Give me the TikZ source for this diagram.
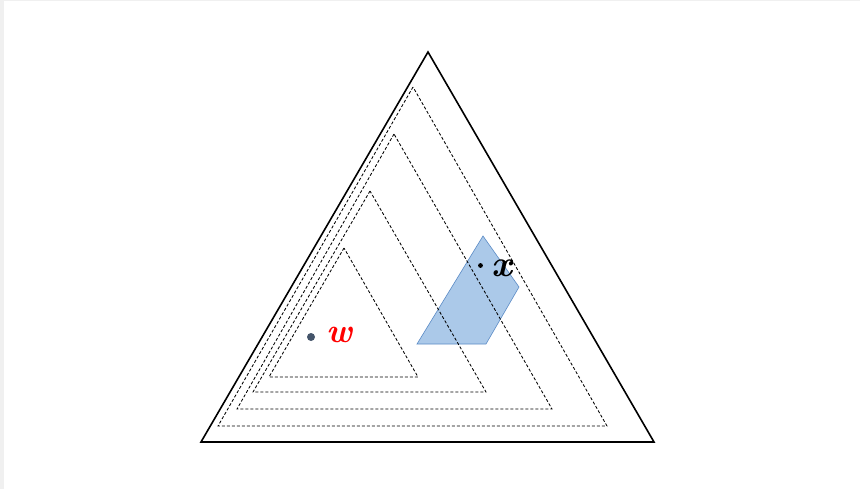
\documentclass[tikz,border=0pt]{standalone}
\definecolor{edgegray}{HTML}{F0F0F0}
\definecolor{regionfill}{HTML}{ABC9E9}
\definecolor{regionedge}{HTML}{5B8BC6}
\definecolor{wdot}{HTML}{44546A}
\tikzset{
  outertri/.style={draw=black, line width=1.6pt, line join=miter},
  dashtri/.style={draw=black, line width=0.85pt, dash pattern=on 3pt off 2pt},
  region/.style={fill=regionfill, draw=regionedge, line width=0.6pt},
  lbl/.style={inner sep=0pt, anchor=center, font=\bfseries\itshape}
}
\begin{document}
\begin{tikzpicture}[x=1pt,y=-1pt]
\useasboundingbox (0,0) rectangle (860,489);
\fill[edgegray] (0,0) rectangle (860,489);
\fill[white] (4,1.5) rectangle (860,489);
% blue region
\draw[region] (483,236) -- (519,287) -- (486,344) -- (417,344) -- cycle;
% dashed triangles
\draw[dashtri] (413,87) -- (218,426) -- (607,426) -- cycle;
\draw[dashtri] (394,134) -- (237,409) -- (552,409) -- cycle;
\draw[dashtri] (370,191) -- (253,392) -- (486,392) -- cycle;
\draw[dashtri] (344,248) -- (269,377) -- (418,377) -- cycle;
% outer triangle
\draw[outertri] (428,52) -- (201,442) -- (654,442) -- cycle;
% points
\fill[wdot] (311,337) circle (4);
\fill[black] (480.5,265.5) circle (2.4);
\node[lbl, text=red] (w) at (339.5,334.5) {\fontsize{34}{34}\selectfont w};
\node[lbl, text=black] (x) at (502,268.5) {\fontsize{37}{37}\selectfont x};
\end{tikzpicture}
\end{document}
